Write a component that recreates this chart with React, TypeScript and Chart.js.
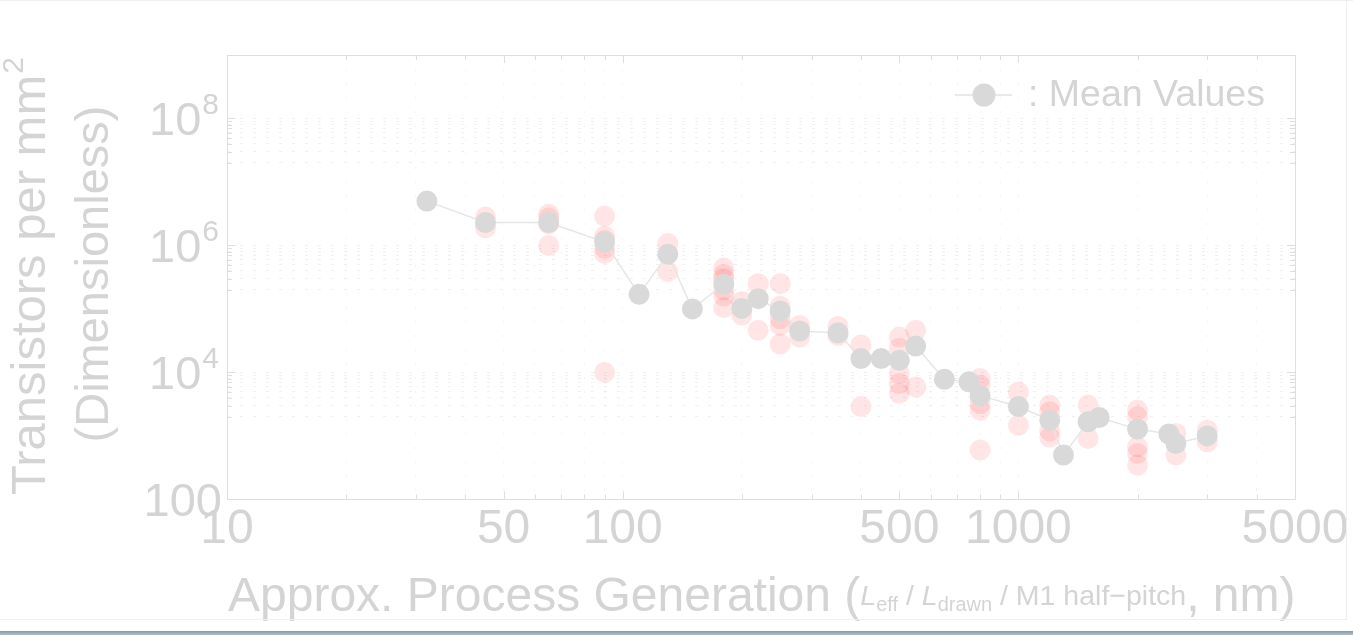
import { useEffect, useRef } from 'react';
import { Chart, registerables } from 'chart.js';

Chart.register(...registerables);

const FONT = '"Liberation Sans", Arial, Helvetica, sans-serif';
const TEXT_COLOR = '#d4d4d4';
const FRAME_COLOR = '#dedede';

// Mean transistor density per process generation (nm, transistors / mm^2)
const MEAN_NODE = [32, 45, 65, 90, 110, 130, 150, 180, 200, 220, 250, 280, 350, 400, 450, 500, 550, 650, 750, 800, 1000, 1200, 1300, 1500, 1600, 2000, 2400, 2500, 3000];
const MEAN_DENSITY = [5.0e6, 2.3e6, 2.3e6, 1.13e6, 1.7e5, 7.3e5, 1.0e5, 2.45e5, 1.02e5, 1.45e5, 9.3e4, 4.5e4, 4.2e4, 1.65e4, 1.65e4, 1.55e4, 2.6e4, 7.8e3, 7.1e3, 4.3e3, 2.9e3, 1.77e3, 500, 1.67e3, 1.95e3, 1.28e3, 1.07e3, 760, 1.0e3];

// Individual chips
const CHIP_NODE = [
  45, 45,
  65, 65, 65, 65,
  90, 90, 90, 90, 90, 90,
  130, 130,
  180, 180, 180, 180, 180, 180,
  200, 200,
  220, 220,
  250, 250, 250, 250, 250,
  280, 280,
  350, 350,
  400, 400,
  500, 500, 500, 500, 500,
  550, 550,
  800, 800, 800, 800, 800,
  1000, 1000,
  1200, 1200, 1200, 1200,
  1500, 1500,
  2000, 2000, 2000, 2000, 2000,
  2500, 2500,
  3000, 3000,
];
const CHIP_DENSITY = [
  2.8e6, 1.9e6,
  3.1e6, 2.7e6, 2.2e6, 1.0e6,
  2.9e6, 1.4e6, 1.2e6, 9.0e5, 7.5e5, 1.0e4,
  1.07e6, 3.9e5,
  4.4e5, 3.5e5, 3.0e5, 2.0e5, 1.6e5, 1.05e5,
  1.3e5, 8.0e4,
  2.5e5, 4.6e4,
  2.5e5, 1.1e5, 7.0e4, 5.5e4, 2.8e4,
  5.5e4, 3.6e4,
  5.3e4, 3.8e4,
  2.7e4, 2.9e3,
  3.6e4, 2.4e4, 9.6e3, 6.7e3, 4.7e3,
  4.6e4, 5.9e3,
  8.0e3, 6.3e3, 3.2e3, 2.55e3, 600,
  4.9e3, 1.47e3,
  3.06e3, 2.4e3, 1.2e3, 950,
  3.06e3, 914,
  2.55e3, 2.0e3, 673, 530, 347,
  1.09e3, 500,
  1.23e3, 807,
];

// Axis ranges and ticks
const X_MIN = 10;
const X_MAX = 5000;
const Y_MIN = 100;
const Y_MAX = 1e9;
const X_LABELED = [10, 50, 100, 500, 1000, 5000];
const X_MINOR = [20, 30, 40, 60, 70, 80, 90, 200, 300, 400, 600, 700, 800, 900, 2000, 3000, 4000];
const Y_LABELED = [100, 1e4, 1e6, 1e8];
const Y_LABEL_BASE = ['100', '10', '10', '10'];
const Y_LABEL_EXP = ['', '4', '6', '8'];
const MANTISSAS = [2, 3, 4, 5, 6, 7, 8, 9];
const Y_MINOR_DECADES = [1e3, 1e5, 1e7];
const Y_MINOR = Y_MINOR_DECADES.flatMap((d) => MANTISSAS.map((m) => m * d));

const decorations = {
  id: 'decorations',
  beforeDatasetsDraw(chart: any) {
    const { ctx, chartArea } = chart;
    const xs = chart.scales.x;
    const ys = chart.scales.y;
    const { left, right, top, bottom } = chartArea;
    ctx.save();
    ctx.strokeStyle = FRAME_COLOR;
    ctx.lineWidth = 1;
    ctx.beginPath();
    for (const v of [...X_LABELED, ...X_MINOR]) {
      const px = Math.round(xs.getPixelForValue(v)) + 0.5;
      const len = X_LABELED.includes(v) ? 8 : 5;
      ctx.moveTo(px, bottom);
      ctx.lineTo(px, bottom - len);
      ctx.moveTo(px, top);
      ctx.lineTo(px, top + len);
    }
    for (const v of [...Y_LABELED, ...Y_MINOR]) {
      const py = Math.round(ys.getPixelForValue(v)) + 0.5;
      const len = Y_LABELED.includes(v) ? 8 : 5;
      ctx.moveTo(left, py);
      ctx.lineTo(left + len, py);
      ctx.moveTo(right, py);
      ctx.lineTo(right - len, py);
    }
    ctx.stroke();
    ctx.strokeRect(Math.round(left) + 0.5, Math.round(top) + 0.5, Math.round(right - left), Math.round(bottom - top));
    ctx.restore();
  },
  afterDraw(chart: any) {
    const { ctx, chartArea, width, height } = chart;
    const ys = chart.scales.y;
    ctx.save();
    ctx.fillStyle = TEXT_COLOR;
    ctx.textBaseline = 'alphabetic';

    // y tick labels with superscript exponents
    Y_LABELED.forEach((v, i) => {
      const py = ys.getPixelForValue(v);
      const rightEdge = chartArea.left - 8;
      const exp = Y_LABEL_EXP[i];
      ctx.textAlign = 'right';
      if (exp) {
        ctx.font = `30px ${FONT}`;
        const ew = ctx.measureText(exp).width;
        ctx.fillText(exp, rightEdge, py - 4);
        ctx.font = `47px ${FONT}`;
        ctx.fillText(Y_LABEL_BASE[i], rightEdge - ew - 1, py + 17);
      } else {
        ctx.font = `47px ${FONT}`;
        ctx.fillText(Y_LABEL_BASE[i], rightEdge + 3, py + 17);
      }
    });

    // y axis title, two rotated lines
    ctx.save();
    ctx.translate(45, 276);
    ctx.rotate(-Math.PI / 2);
    ctx.textAlign = 'left';
    ctx.font = `49px ${FONT}`;
    const t1 = 'Transistors per mm';
    const w1 = ctx.measureText(t1).width;
    ctx.font = `30px ${FONT}`;
    const ws = ctx.measureText('2').width;
    const start = -(w1 + ws + 1) / 2;
    ctx.font = `49px ${FONT}`;
    ctx.fillText(t1, start, 0);
    ctx.font = `30px ${FONT}`;
    ctx.fillText('2', start + w1 + 1, -22);
    ctx.restore();

    ctx.save();
    ctx.translate(108, 274);
    ctx.rotate(-Math.PI / 2);
    ctx.textAlign = 'center';
    ctx.font = `47px ${FONT}`;
    ctx.fillText('(Dimensionless)', 0, 0);
    ctx.restore();

    // x axis title with italic symbols and subscripts
    const parts: [string, string, number][] = [
      ['Approx. Process Generation (', `48px ${FONT}`, 0],
      ['L', `italic 28.5px ${FONT}`, -6],
      ['eff', `20px ${FONT}`, 0],
      [' / ', `28.5px ${FONT}`, -6],
      ['L', `italic 28.5px ${FONT}`, -6],
      ['drawn', `20px ${FONT}`, 0],
      [' / M1 half\u2212pitch', `28.5px ${FONT}`, -6],
      [', nm)', `48px ${FONT}`, 0],
    ];
    let cx = 228;
    const base = 611;
    ctx.textAlign = 'left';
    for (const [txt, font, dy] of parts) {
      ctx.font = font;
      ctx.fillText(txt, cx, base + dy);
      cx += ctx.measureText(txt).width;
    }

    // legend
    ctx.strokeStyle = '#e2e2e2';
    ctx.lineWidth = 1.5;
    ctx.beginPath();
    ctx.moveTo(955, 95);
    ctx.lineTo(1012, 95);
    ctx.stroke();
    ctx.fillStyle = '#d9d9d9';
    ctx.beginPath();
    ctx.arc(984, 95, 11.5, 0, Math.PI * 2);
    ctx.fill();
    ctx.fillStyle = TEXT_COLOR;
    ctx.font = `37.5px ${FONT}`;
    ctx.fillText(': Mean Values', 1028, 106);

    // panel edges
    ctx.strokeStyle = '#efefef';
    ctx.lineWidth = 1;
    ctx.beginPath();
    ctx.moveTo(0, 0.5);
    ctx.lineTo(width, 0.5);
    ctx.moveTo(1346.5, 0);
    ctx.lineTo(1346.5, 620);
    ctx.moveTo(0, 619.5);
    ctx.lineTo(1347, 619.5);
    ctx.stroke();
    const grad = ctx.createLinearGradient(0, height - 4, 0, height);
    grad.addColorStop(0, '#7e9fac');
    grad.addColorStop(1, '#a9c3cd');
    ctx.fillStyle = grad;
    ctx.fillRect(0, height - 4, width, 4);
    ctx.restore();
  },
};

export default function App() {
  const canvasRef = useRef<HTMLCanvasElement | null>(null);

  useEffect(() => {
    const canvas = canvasRef.current;
    if (!canvas) return;
    const chart = new Chart(canvas, {
      type: 'scatter',
      data: {
        datasets: [
          {
            label: 'Mean Values',
            data: MEAN_NODE.map((x, i) => ({ x, y: MEAN_DENSITY[i] })),
            showLine: true,
            borderColor: '#e6e6e6',
            borderWidth: 1.5,
            pointRadius: 10.5,
            pointBackgroundColor: '#d9d9d9',
            pointBorderWidth: 0,
            order: 1,
          },
          {
            label: 'Chips',
            data: CHIP_NODE.map((x, i) => ({ x, y: CHIP_DENSITY[i] })),
            pointRadius: 10.5,
            pointBackgroundColor: 'rgba(255,0,0,0.1)',
            pointBorderWidth: 0,
            order: 2,
          },
        ],
      },
      options: {
        responsive: false,
        animation: false,
        devicePixelRatio: 1,
        layout: { padding: { left: 227, top: 55, right: 58, bottom: 74 } },
        plugins: { legend: { display: false }, tooltip: { enabled: false } },
        scales: {
          x: {
            type: 'logarithmic',
            min: X_MIN,
            max: X_MAX,
            afterBuildTicks: (scale: any) => {
              scale.ticks = [...X_LABELED, ...X_MINOR].sort((a, b) => a - b).map((value) => ({ value }));
            },
            ticks: {
              autoSkip: false,
              maxRotation: 0,
              padding: 2,
              color: TEXT_COLOR,
              font: { family: FONT, size: 48 },
              callback: (value: any) => (X_LABELED.includes(Number(value)) ? String(value) : ''),
            },
            grid: { color: 'rgba(0,0,0,0.045)', drawTicks: false, lineWidth: 1 },
            border: { display: false, dash: [2, 12] },
          },
          y: {
            type: 'logarithmic',
            min: Y_MIN,
            max: Y_MAX,
            afterBuildTicks: (scale: any) => {
              scale.ticks = [...Y_LABELED, ...Y_MINOR].sort((a, b) => a - b).map((value) => ({ value }));
            },
            ticks: { display: false },
            grid: { color: 'rgba(0,0,0,0.06)', drawTicks: false, lineWidth: 1 },
            border: { display: false, dash: [3, 10] },
          },
        },
      },
      plugins: [decorations],
    } as any);
    return () => chart.destroy();
  }, []);

  return (
    <div style={{ position: 'fixed', left: 0, top: 0, width: 1353, height: 635, background: '#ffffff' }}>
      <canvas ref={canvasRef} width={1353} height={635} style={{ display: 'block', width: 1353, height: 635 }} />
    </div>
  );
}
